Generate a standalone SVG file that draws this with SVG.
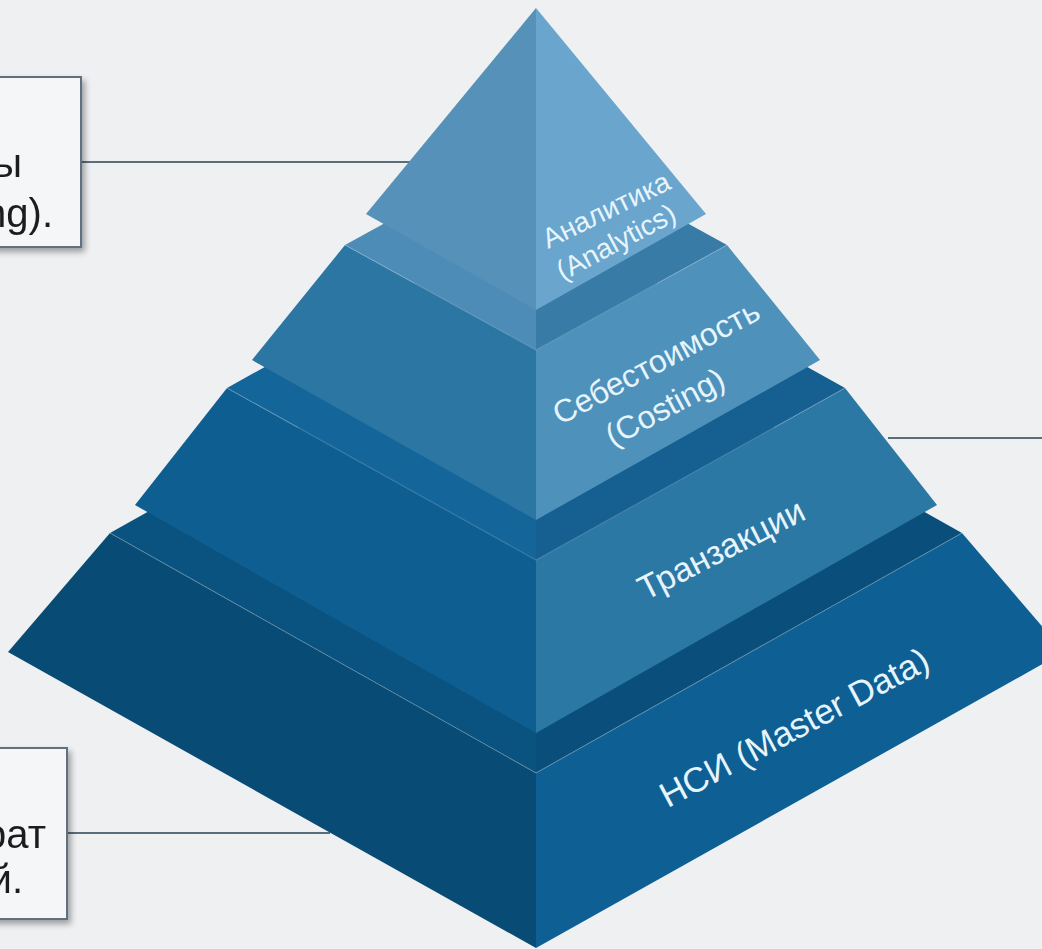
<svg xmlns="http://www.w3.org/2000/svg" width="1042" height="949" viewBox="0 0 1042 949">
  <defs>
    <style>
      .lbl { font-family: "Liberation Sans", Arial, sans-serif; fill: #e6f4fc; text-anchor: middle; dominant-baseline: central; }
      .note { font-family: "Liberation Sans", Arial, sans-serif; fill: #1e1e1e; text-anchor: end; }
      .box { fill: #f4f6f8; stroke: #5e7180; stroke-width: 2; }
      .wire { stroke: #5a6d7b; stroke-width: 2.2; fill: none; }
      .edge { fill: none; stroke: #ffffff; stroke-opacity: 0.18; stroke-width: 1.2; }
    </style>
    <filter id="shadow" x="-20%" y="-20%" width="150%" height="150%">
      <feGaussianBlur in="SourceAlpha" stdDeviation="3"/>
      <feOffset dx="3" dy="4" result="off"/>
      <feComponentTransfer><feFuncA type="linear" slope="0.35"/></feComponentTransfer>
      <feMerge><feMergeNode/><feMergeNode in="SourceGraphic"/></feMerge>
    </filter>
  </defs>

  <!-- background -->
  <rect width="1042" height="949" fill="#eef0f2"/>

  <!-- connectors from callouts to the pyramid -->
  <g id="connectors">
    <line class="wire" x1="81" y1="162" x2="410" y2="162"/>
    <line class="wire" x1="67" y1="833" x2="330" y2="833"/>
    <line class="wire" x1="888" y1="438" x2="1042" y2="438"/>
  </g>

  <!-- bottom tier: master data -->
  <g id="tier-master">
    <polygon points="110,533 536,773 536,948 8,652" fill="#084b74"/>
    <polygon points="962,533 536,773 536,948 1064,652" fill="#0e6094"/>
    <polygon points="110,533 536,294 536,773" fill="#0a527f"/>
    <polygon points="962,533 536,294 536,773" fill="#0a4f7b"/>
    <polyline class="edge" points="110,533 536,773 962,533"/>
    <text class="lbl" font-size="35" transform="translate(794,727) rotate(-28)">НСИ (Master Data)</text>
  </g>

  <!-- third tier: transactions -->
  <g id="tier-transactions">
    <polygon points="227,388 536,560 536,733 135,505" fill="#0e5e91"/>
    <polygon points="845,388 536,560 536,733 937,505" fill="#2c78a5"/>
    <polygon points="227,388 536,216 536,560" fill="#14659a"/>
    <polygon points="845,388 536,216 536,560" fill="#155f91"/>
    <polyline class="edge" points="227,388 536,560 845,388"/>
    <text class="lbl" font-size="34" transform="translate(721,549) rotate(-27)">Транзакции</text>
  </g>

  <!-- second tier: costing -->
  <g id="tier-costing">
    <polygon points="345,245 536,350 536,520 252,360" fill="#2c76a3"/>
    <polygon points="727,245 536,350 536,520 820,360" fill="#4e91bb"/>
    <polygon points="345,245 536,140 536,350" fill="#4c8cb6"/>
    <polygon points="727,245 536,140 536,350" fill="#387ba7"/>
    <polyline class="edge" points="345,245 536,350 727,245"/>
    <text class="lbl" font-size="32" transform="translate(656,362) rotate(-28)">Себестоимость</text>
    <text class="lbl" font-size="32" transform="translate(665,407) rotate(-28)">(Costing)</text>
  </g>

  <!-- top tier: analytics -->
  <g id="tier-analytics">
    <polygon points="536,8 366,214 536,310" fill="#5591b9"/>
    <polygon points="536,8 706,214 536,310" fill="#69a5cd"/>
    <text class="lbl" font-size="28" transform="translate(606,210) rotate(-26)">Аналитика</text>
    <text class="lbl" font-size="28" transform="translate(616,242) rotate(-28)">(Analytics)</text>
  </g>

  <!-- callout: upper left -->
  <g id="note-top" filter="url(#shadow)">
    <rect class="box" x="-10" y="77" width="91" height="170"/>
    <text class="note" font-size="40" x="22" y="177">ы</text>
    <text class="note" font-size="40" x="53" y="227">ng).</text>
  </g>

  <!-- callout: lower left -->
  <g id="note-bottom" filter="url(#shadow)">
    <rect class="box" x="-10" y="748" width="77" height="171"/>
    <text class="note" font-size="40" x="46" y="848">рат</text>
    <text class="note" font-size="40" x="23" y="893">й.</text>
  </g>
</svg>
